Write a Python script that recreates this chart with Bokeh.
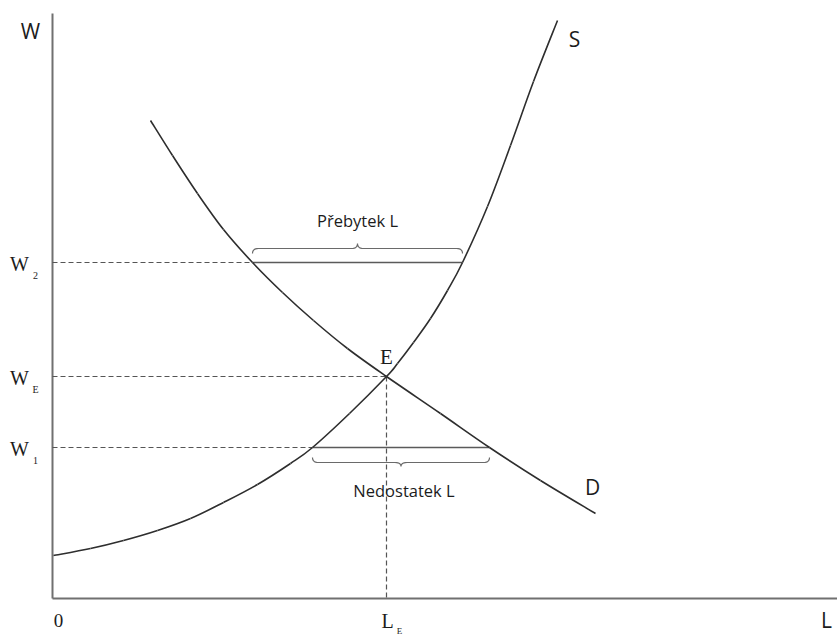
import numpy as np
from bokeh.plotting import figure
from bokeh.models import Range1d
from bokeh.core.properties import value
from bokeh.embed import file_html
from bokeh.resources import INLINE

# ---- data (abstract units: labour L on x, wage W on y; origin where the axes meet)
supply_L = [1, 38, 71, 105, 138, 171, 205, 238, 260, 297, 334, 345, 361, 378, 395, 410, 435, 458, 481, 505]
supply_W = [43, 50, 58, 68, 80, 96, 114, 135, 151, 185, 222, 235, 256, 280, 308, 336, 392, 453, 517, 578]
demand_L = [98, 120, 145, 171, 200, 230, 261, 295, 334, 388, 437, 488, 543]
demand_W = [478, 443, 405, 369, 336, 306, 278, 250, 222, 185, 151, 118, 85]

eq_L, eq_W = 334, 222          # equilibrium E
W2, W1 = 336, 151              # wage above / below equilibrium
surplus_L = [200, 410]         # demand, supply at W2  (Přebytek L)
shortage_L = [260, 437]        # supply, demand at W1  (Nedostatek L)
axis_L_max, axis_W_max = 790, 585

level_values = [W2, eq_W, W1]
level_subs = ["2", "E", "1"]

SERIF = value("Liberation Serif")
SANS = value("Open Sans")
TXT = "#1c1c1c"

p = figure(width=837, height=636, x_range=Range1d(-52, 785), y_range=Range1d(-38, 598),
           output_backend="svg", toolbar_location=None, x_axis_type=None, y_axis_type=None,
           min_border=0, outline_line_color=None, background_fill_color="white")
p.grid.visible = False

# axes
p.line([0, 0], [0, axis_W_max], line_color="#707070", line_width=2)
p.line([0, axis_L_max], [0, 0], line_color="#707070", line_width=2)

# dashed guides
p.multi_line(xs=[[0, surplus_L[0]], [0, eq_L], [0, shortage_L[0]], [eq_L, eq_L]],
             ys=[[W2, W2], [eq_W, eq_W], [W1, W1], [eq_W, 0]],
             line_color="#555555", line_width=1.2, line_dash="5 3")

# solid surplus / shortage segments
p.multi_line(xs=[surplus_L, shortage_L], ys=[[W2, W2], [W1, W1]],
             line_color="#5a5a5a", line_width=1.5)


def smooth(xs, ys):
    """Catmull-Rom style bezier segments through the given points."""
    x = np.asarray(xs, float)
    y = np.asarray(ys, float)
    xp = np.concatenate([[x[0]], x, [x[-1]]])
    yp = np.concatenate([[y[0]], y, [y[-1]]])
    n = len(x) - 1
    x0, y0, x1, y1 = x[:-1], y[:-1], x[1:], y[1:]
    cx0 = x0 + (xp[2:n + 2] - xp[0:n]) / 6
    cy0 = y0 + (yp[2:n + 2] - yp[0:n]) / 6
    cx1 = x1 - (xp[3:n + 3] - xp[1:n + 1]) / 6
    cy1 = y1 - (yp[3:n + 3] - yp[1:n + 1]) / 6
    return dict(x0=x0, y0=y0, x1=x1, y1=y1, cx0=cx0, cy0=cy0, cx1=cx1, cy1=cy1)

# curves
p.bezier(**smooth(supply_L, supply_W), line_color="#2e2e2e", line_width=1.6)
p.bezier(**smooth(demand_L, demand_W), line_color="#2e2e2e", line_width=1.6)


def brace(x0, x1, y, d, a=9, h=5, t=5, r=6):
    def qb(p0, c, p1, n=8):
        s = np.linspace(0, 1, n)
        return (list((1 - s) ** 2 * p0[0] + 2 * (1 - s) * s * c[0] + s ** 2 * p1[0]),
                list((1 - s) ** 2 * p0[1] + 2 * (1 - s) * s * c[1] + s ** 2 * p1[1]))
    xm = (x0 + x1) / 2
    yb, yh, yt = y + d * a, y + d * (a + h), y + d * (a + h + t)
    xs, ys = [], []
    for seg in (qb((x0, yb), (x0, yh), (x0 + r, yh)),
                qb((xm - r, yh), (xm, yh), (xm, yt)),
                qb((xm, yt), (xm, yh), (xm + r, yh)),
                qb((x1 - r, yh), (x1, yh), (x1, yb))):
        xs += seg[0]
        ys += seg[1]
    return xs, ys

bx1, by1 = brace(surplus_L[0], surplus_L[1], W2, +1)
bx2, by2 = brace(shortage_L[0], shortage_L[1], W1, -1, a=10, h=5, t=4)
p.line(bx1, by1, line_color="#6a6a6a", line_width=1.2)
p.line(bx2, by2, line_color="#6a6a6a", line_width=1.2)

# brace captions
p.text(x=[sum(surplus_L) / 2], y=[W2 + 42], text=["Přebytek L"], text_font=SANS,
       text_font_size="16.5px", text_align="center", text_baseline="middle", text_color=TXT)
p.text(x=[sum(shortage_L) / 2 + 3], y=[W1 - 43], text=["Nedostatek L"], text_font=SANS,
       text_font_size="16.5px", text_align="center", text_baseline="middle", text_color=TXT)

# wage level labels (serif with subscripts)
p.text(x=[-33] * 3, y=[v - 1 for v in level_values], text=["W"] * 3, text_font=SERIF,
       text_font_size="20px", text_align="center", text_baseline="middle", text_color=TXT)
p.text(x=[-17] * 3, y=[v - 13 for v in level_values], text=level_subs, text_font=SERIF,
       text_font_size="10px", text_align="center", text_baseline="middle", text_color=TXT)

# E label
p.text(x=[eq_L], y=[eq_W + 20], text=["E"], text_font=SERIF, text_font_size="21px",
       text_align="center", text_baseline="middle", text_color=TXT)

# x-axis labels
p.text(x=[6], y=[-22], text=["0"], text_font=SERIF, text_font_size="19px",
       text_align="center", text_baseline="middle", text_color=TXT)
p.text(x=[eq_L + 1], y=[-22], text=["L"], text_font=SERIF, text_font_size="20px",
       text_align="center", text_baseline="middle", text_color=TXT)
p.text(x=[eq_L + 13], y=[-32], text=["E"], text_font=SERIF, text_font_size="9px",
       text_align="center", text_baseline="middle", text_color=TXT)

# axis titles and curve names
p.text(x=[-22], y=[568], text=["W"], text_font=SANS, text_font_size="21px",
       text_align="center", text_baseline="middle", text_color=TXT)
p.text(x=[774], y=[-21], text=["L"], text_font=SANS, text_font_size="21px",
       text_align="center", text_baseline="middle", text_color=TXT)
p.text(x=[supply_L[-1] + 17], y=[supply_W[-1] - 18], text=["S"], text_font=SANS,
       text_font_size="21px", text_align="center", text_baseline="middle", text_color=TXT)
p.text(x=[demand_L[-1] - 3], y=[demand_W[-1] + 27], text=["D"], text_font=SANS,
       text_font_size="21px", text_align="center", text_baseline="middle", text_color=TXT)

open("out.html", "w").write(file_html(p, INLINE))
